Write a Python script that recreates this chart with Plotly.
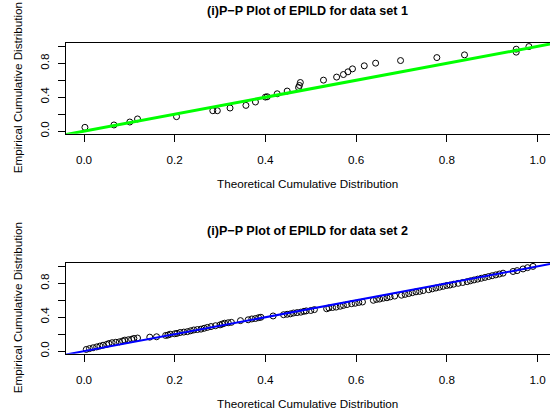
import plotly.graph_objects as go

# ---------------- data ----------------
x1 = [0.002, 0.066, 0.101, 0.118, 0.204, 0.284, 0.294, 0.322, 0.357, 0.378,
      0.400, 0.404, 0.426, 0.448, 0.473, 0.475, 0.477, 0.528, 0.557, 0.572,
      0.582, 0.592, 0.618, 0.643, 0.698, 0.778, 0.839, 0.953, 0.953, 0.981]
y1 = [0.045, 0.073, 0.108, 0.144, 0.171, 0.241, 0.241, 0.273, 0.304, 0.344,
      0.402, 0.406, 0.441, 0.473, 0.515, 0.539, 0.574, 0.602, 0.638, 0.668,
      0.700, 0.735, 0.771, 0.802, 0.833, 0.868, 0.900, 0.932, 0.967, 0.998]

x2 = [0.005, 0.012, 0.020, 0.028, 0.035, 0.042, 0.050, 0.055, 0.062, 0.070,
      0.078, 0.085, 0.090, 0.098, 0.105, 0.110, 0.118, 0.145, 0.160,
      0.180, 0.185, 0.190, 0.200, 0.205, 0.212, 0.220, 0.228, 0.235, 0.242,
      0.250, 0.258, 0.265, 0.272, 0.280, 0.290, 0.300, 0.305, 0.310, 0.318, 0.325,
      0.345, 0.362, 0.370, 0.378, 0.385, 0.390, 0.417,
      0.440, 0.448, 0.455, 0.462, 0.470, 0.478, 0.485, 0.490, 0.500, 0.508,
      0.535, 0.540, 0.548, 0.556, 0.565, 0.572, 0.580, 0.590, 0.598, 0.606, 0.614,
      0.638, 0.645, 0.652, 0.660, 0.668, 0.675, 0.685,
      0.700, 0.708, 0.716, 0.724, 0.732, 0.740, 0.748,
      0.760, 0.768, 0.776, 0.784, 0.792, 0.800, 0.807,
      0.815, 0.825, 0.835, 0.845,
      0.852, 0.860, 0.868, 0.876, 0.884, 0.892, 0.900, 0.908, 0.916, 0.924,
      0.946, 0.955, 0.968, 0.978, 0.990]
y2 = [0.020, 0.030, 0.040, 0.050, 0.060, 0.070, 0.080, 0.090, 0.100, 0.105,
      0.110, 0.120, 0.130, 0.135, 0.140, 0.150, 0.155, 0.165, 0.170,
      0.185, 0.190, 0.200, 0.205, 0.210, 0.220, 0.225, 0.230, 0.240, 0.250,
      0.255, 0.260, 0.270, 0.280, 0.290, 0.300, 0.310, 0.320, 0.330, 0.335, 0.340,
      0.360, 0.370, 0.380, 0.385, 0.395, 0.400, 0.415,
      0.430, 0.435, 0.440, 0.450, 0.455, 0.460, 0.470, 0.475, 0.480, 0.490,
      0.500, 0.510, 0.515, 0.520, 0.530, 0.540, 0.550, 0.560, 0.565, 0.575, 0.580,
      0.600, 0.610, 0.615, 0.625, 0.630, 0.640, 0.650,
      0.660, 0.670, 0.680, 0.690, 0.700, 0.705, 0.715,
      0.725, 0.735, 0.745, 0.755, 0.765, 0.775, 0.780,
      0.790, 0.800, 0.810, 0.820,
      0.830, 0.840, 0.850, 0.860, 0.870, 0.880, 0.890, 0.900, 0.910, 0.920,
      0.940, 0.950, 0.970, 0.985, 1.000]

tick_vals = [0.0, 0.2, 0.4, 0.6, 0.8, 1.0]
x_tick_text = ["0.0", "0.2", "0.4", "0.6", "0.8", "1.0"]
y_tick_text = ["0.0", "", "0.4", "", "0.8", ""]
titles = ["(i)P\u2212P Plot of EPILD for data set 1",
          "(i)P\u2212P Plot of EPILD for data set 2"]
x_label = "Theoretical Cumulative Distribution"
y_label = "Empirical Cumulative Distribution"
ref_intercept = 0.0
ref_slope = 1.0
ref_colors = ["#00FF00", "#0000FF"]
ref_widths = [3, 2]

# ---------------- layout constants ----------------
W, H = 550, 411
ML = 66
FONT = "Liberation Sans, Arial, Helvetica, sans-serif"
x_range = [-0.0397, 1.0275]
y_range = [-0.03, 1.04]
# panel boxes in pixels (top, bottom)
panels = [(43, 133.7), (263, 353.7)]


def px_x(px):
    return (px - ML) / (W - ML)


def px_y(py):
    return 1 - py / H


def pdom(top, bottom):
    return [px_y(bottom), px_y(top)]


fig = go.Figure()

datasets = [(x1, y1), (x2, y2)]
for i, (xs, ys) in enumerate(datasets):
    xa = "x" if i == 0 else "x2"
    ya = "y" if i == 0 else "y2"
    fig.add_trace(go.Scatter(
        x=xs, y=ys, mode="markers", xaxis=xa, yaxis=ya,
        marker=dict(symbol="circle-open", size=6, color="black",
                    line=dict(width=1, color="black")),
        showlegend=False, hoverinfo="skip"))
    lx = list(x_range)
    ly = [ref_intercept + ref_slope * v for v in lx]
    fig.add_trace(go.Scatter(
        x=lx, y=ly, mode="lines", xaxis=xa, yaxis=ya,
        line=dict(color=ref_colors[i], width=ref_widths[i]),
        showlegend=False, hoverinfo="skip"))

axis_font = dict(family=FONT, size=11.7, color="black")

for i, (top, bottom) in enumerate(panels):
    sfx = "" if i == 0 else "2"
    fig.update_layout(**{
        "xaxis" + sfx: dict(
            domain=[0, 1], range=x_range, anchor="y" + sfx,
            tickmode="array", tickvals=tick_vals, ticktext=x_tick_text,
            ticks="outside", ticklen=7, tickwidth=1, tickcolor="black",
            showline=True, linecolor="black", linewidth=1, mirror=True,
            showgrid=False, zeroline=False, tickfont=axis_font,
            ticklabelstandoff=8, automargin=False),
        "yaxis" + sfx: dict(
            domain=pdom(top, bottom), range=y_range, anchor="x" + sfx,
            tickmode="array", tickvals=tick_vals, ticktext=y_tick_text,
            ticks="outside", ticklen=7, tickwidth=1, tickcolor="black",
            showline=True, linecolor="black", linewidth=1, mirror=False,
            showgrid=False, zeroline=False, tickfont=axis_font,
            tickangle=-90, ticklabelstandoff=4, automargin=False),
    })

annotations = []
for i, (top, bottom) in enumerate(panels):
    off = 0 if i == 0 else 220
    annotations.append(dict(
        text="<b>" + titles[i] + "</b>", x=px_x(307), y=px_y(11 + off),
        xref="paper", yref="paper", showarrow=False, xanchor="center",
        yanchor="middle", font=dict(family=FONT, size=12.6, color="black")))
    annotations.append(dict(
        text=x_label, x=px_x(307), y=px_y(183 + off),
        xref="paper", yref="paper", showarrow=False, xanchor="center",
        yanchor="middle", font=axis_font))
    annotations.append(dict(
        text=y_label, x=px_x(17), y=px_y((top + bottom) / 2),
        xref="paper", yref="paper", showarrow=False, xanchor="center",
        yanchor="middle", textangle=-90, font=axis_font))

fig.update_layout(
    width=W, height=H, autosize=False,
    margin=dict(l=ML, r=0, t=0, b=0, pad=0),
    paper_bgcolor="white", plot_bgcolor="white",
    annotations=annotations, showlegend=False)

fig.write_html("out.html",
               config={"displayModeBar": False, "staticPlot": True},
               post_script="document.body.style.margin='0px';"
                           "document.body.style.padding='0px';")
